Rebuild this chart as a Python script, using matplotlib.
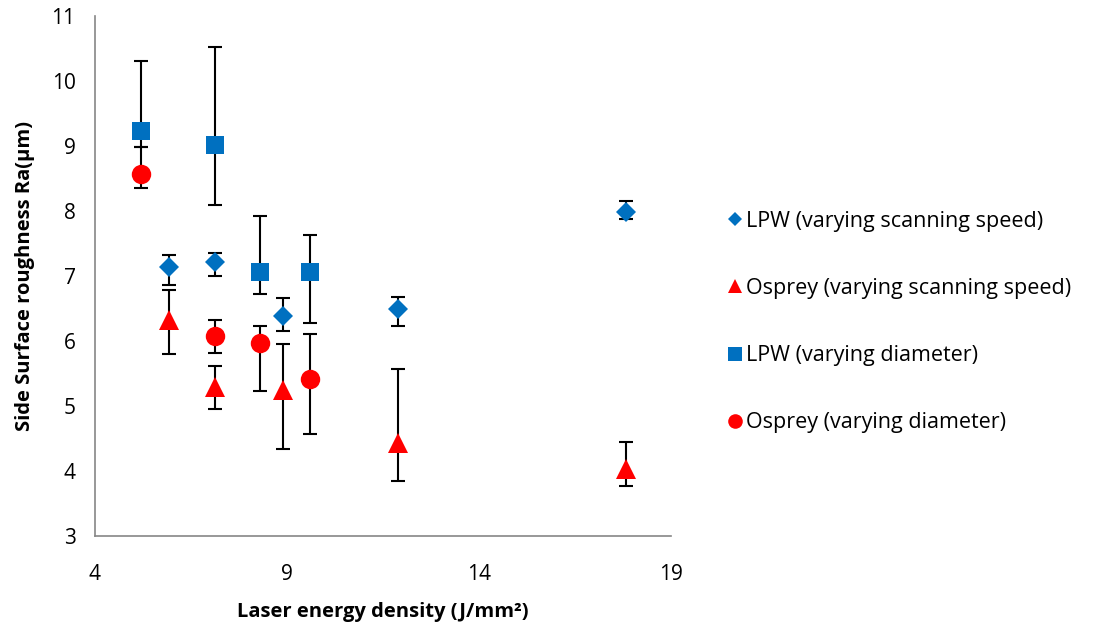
import numpy as np
import matplotlib.pyplot as plt

plt.rcParams['font.family'] = ['Open Sans', 'DejaVu Sans']

# LPW (varying scanning speed)
lpw_ss_x = [5.93, 7.13, 8.91, 11.88, 17.83]
lpw_ss_y = [7.14, 7.21, 6.38, 6.50, 7.99]
lpw_ss_lo = [6.86, 7.00, 6.16, 6.23, 7.88]
lpw_ss_hi = [7.32, 7.36, 6.67, 6.68, 8.16]

# Osprey (varying scanning speed)
osp_ss_x = [5.93, 7.13, 8.91, 11.88, 17.83]
osp_ss_y = [6.32, 5.30, 5.25, 4.44, 4.03]
osp_ss_lo = [5.80, 4.96, 4.34, 3.85, 3.77]
osp_ss_hi = [6.78, 5.62, 5.95, 5.57, 4.45]

# LPW (varying diameter)
lpw_d_x = [5.19, 7.13, 8.30, 9.59]
lpw_d_y = [9.24, 9.01, 7.07, 7.06]
lpw_d_lo = [8.98, 8.10, 6.72, 6.28]
lpw_d_hi = [10.31, 10.52, 7.92, 7.64]

# Osprey (varying diameter)
osp_d_x = [5.19, 7.13, 8.30, 9.59]
osp_d_y = [8.57, 6.08, 5.97, 5.42]
osp_d_lo = [8.36, 5.82, 5.24, 4.57]
osp_d_hi = [8.98, 6.32, 6.23, 6.11]

series = [
    ('LPW (varying scanning speed)', lpw_ss_x, lpw_ss_y, lpw_ss_lo, lpw_ss_hi, 'D', '#0070C0', 10),
    ('Osprey (varying scanning speed)', osp_ss_x, osp_ss_y, osp_ss_lo, osp_ss_hi, '^', '#FF0000', 14),
    ('LPW (varying diameter)', lpw_d_x, lpw_d_y, lpw_d_lo, lpw_d_hi, 's', '#0070C0', 13.5),
    ('Osprey (varying diameter)', osp_d_x, osp_d_y, osp_d_lo, osp_d_hi, 'o', '#FF0000', 14),
]

fig = plt.figure(figsize=(10.99, 6.30), dpi=100)
ax = fig.add_axes([0.0864, 0.149, 0.5241, 0.8254])

handles = []
for label, x, y, lo, hi, m, c, ms in series:
    y = np.array(y)
    err = [y - np.array(lo), np.array(hi) - y]
    ax.errorbar(x, y, yerr=err, fmt='none', ecolor='black', elinewidth=1.5,
                capsize=5, capthick=1.5, zorder=2)
    h, = ax.plot(x, y, linestyle='none', marker=m, color=c, markersize=ms,
                 markeredgewidth=0, zorder=3, label=label)
    handles.append(h)

ax.set_xlim(4, 19)
ax.set_ylim(3, 11)
ax.set_xticks([4, 9, 14, 19])
ax.set_yticks(range(3, 12))
ax.tick_params(length=0, labelsize=15)
ax.tick_params(axis='x', pad=20)
ax.tick_params(axis='y', pad=14)
for s in ['top', 'right']:
    ax.spines[s].set_visible(False)
for s in ['left', 'bottom']:
    ax.spines[s].set_color('#868686')
    ax.spines[s].set_linewidth(1.2)

ax.set_xlabel('Laser energy density (J/mm²)', fontsize=14.5, fontweight='bold', labelpad=12)
ax.set_ylabel('Side Surface roughness Ra(μm)', fontsize=14.5, fontweight='bold', labelpad=12)

fig.legend(handles=handles, loc='center left', bbox_to_anchor=(0.642, 0.489),
           frameon=False, fontsize=15.5, labelspacing=2.15, handletextpad=0.1,
           handlelength=0.9, markerscale=0.75)

fig.savefig('out.png', dpi=100)
